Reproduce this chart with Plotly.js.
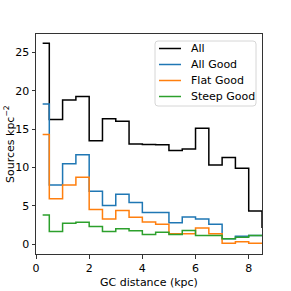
<!DOCTYPE html>
<html>
<head>
<meta charset="utf-8">
<script src="https://cdn.plot.ly/plotly-3.0.1.min.js"></script>
<style>html,body{margin:0;padding:0;background:#fff;}#chart{width:291px;height:291px;}</style>
</head>
<body>
<div id="chart"></div>
<script>
const binCenters = [0.25,0.75,1.25,1.75,2.25,2.75,3.25,3.75,4.25,4.75,5.25,5.75,6.25,6.75,7.25,7.75,8.25,8.75];
const allVals   = [26.2,16.25,18.8,19.24,13.49,16.34,16.03,13.05,13.0,12.95,12.2,12.4,15.1,10.3,11.3,9.9,4.3,2.2];
const allGood   = [18.26,7.7,10.46,11.64,6.9,5.03,6.51,5.42,4.1,4.1,2.79,3.53,3.26,2.57,0.68,1.03,1.12,1.12];
const flatGood  = [14.3,5.9,7.7,8.71,4.5,3.26,4.37,3.49,2.87,2.57,1.34,1.34,2.08,1.34,0.1,0.3,0.1,0.1];
const steepGood = [3.79,1.64,2.7,2.83,2.3,1.64,2.0,1.74,1.25,1.55,1.25,1.78,1.12,1.12,0.68,0.9,1.12,1.12];
const seriesNames = ['All','All Good','Flat Good','Steep Good'];
const seriesColors = ['#000000','#1f77b4','#ff7f0e','#2ca02c'];
const xTicks = [0,2,4,6,8];
const yTicks = [0,5,10,15,20,25];

const values = [allVals, allGood, flatGood, steepGood];
const traces = values.map((v,i)=>({
  x: binCenters, y: v, type:'scatter', mode:'lines', name: seriesNames[i],
  line:{shape:'hvh', color: seriesColors[i], width:1.5}
}));

// plot area in pixels
const W = 291, H = 291, mL = 36, mR = 29, mT = 34, mB = 37;
const pw = W - mL - mR, ph = H - mT - mB;
const px = x => (x - mL) / pw;
const py = y => (H - mB - y) / ph;

// custom legend (matplotlib-like compact layout)
const shapes = [];
const annotations = [];
const bx0 = 155, bx1 = 256, by0 = 41, by1 = 106, r = 3;
const path = `M ${bx0+r},${by0} L ${bx1-r},${by0} Q ${bx1},${by0} ${bx1},${by0+r} L ${bx1},${by1-r} Q ${bx1},${by1} ${bx1-r},${by1} L ${bx0+r},${by1} Q ${bx0},${by1} ${bx0},${by1-r} L ${bx0},${by0+r} Q ${bx0},${by0} ${bx0+r},${by0} Z`;
const pathPaper = path.replace(/(-?\d+(?:\.\d+)?),(-?\d+(?:\.\d+)?)/g, (m,a,b)=>`${px(+a)},${py(+b)}`);
shapes.push({type:'path', xref:'paper', yref:'paper', path: pathPaper,
  line:{color:'#d6d6d6', width:1}, fillcolor:'rgba(255,255,255,0.8)', layer:'above'});
const rowY = [48.5, 64.5, 80.5, 96.5];
seriesNames.forEach((n,i)=>{
  shapes.push({type:'line', xref:'paper', yref:'paper', x0:px(159), x1:px(181), y0:py(rowY[i]), y1:py(rowY[i]),
    line:{color:seriesColors[i], width:1.5}, layer:'above'});
  annotations.push({xref:'paper', yref:'paper', x:px(188.5), y:py(rowY[i]), xanchor:'left', yanchor:'middle',
    text:n, showarrow:false, font:{family:'DejaVu Sans, sans-serif', size:11, color:'#000'}});
});
// y-axis title placed like matplotlib's
annotations.push({xref:'paper', yref:'paper', x:px(9), y:py(144), xanchor:'center', yanchor:'middle',
  textangle:-90, text:'Sources kpc<sup>\u22122</sup>', showarrow:false,
  font:{family:'DejaVu Sans, sans-serif', size:11, color:'#000'}});

const layout = {
  width:W, height:H,
  margin:{l:mL, r:mR, t:mT, b:mB},
  paper_bgcolor:'#fff', plot_bgcolor:'#fff',
  font:{family:'DejaVu Sans, sans-serif', size:11, color:'#000'},
  showlegend:false,
  shapes: shapes,
  annotations: annotations,
  xaxis:{range:[0,8.5], tickvals:xTicks, ticks:'outside', ticklen:3.5, tickwidth:1, tickcolor:'#333',
    showline:true, linecolor:'#333', linewidth:1, mirror:true, showgrid:false, zeroline:false,
    title:{text:'GC distance (kpc)', font:{family:'DejaVu Sans, sans-serif', size:11}, standoff:4},
    tickfont:{family:'DejaVu Sans, sans-serif', size:11}},
  yaxis:{range:[-1.3,27.4], tickvals:yTicks, ticks:'outside', ticklen:3.5, tickwidth:1, tickcolor:'#333',
    showline:true, linecolor:'#333', linewidth:1, mirror:true, showgrid:false, zeroline:false,
    tickfont:{family:'DejaVu Sans, sans-serif', size:11}}
};
Plotly.newPlot('chart', traces, layout, {staticPlot:true, displayModeBar:false});
</script>
</body>
</html>
